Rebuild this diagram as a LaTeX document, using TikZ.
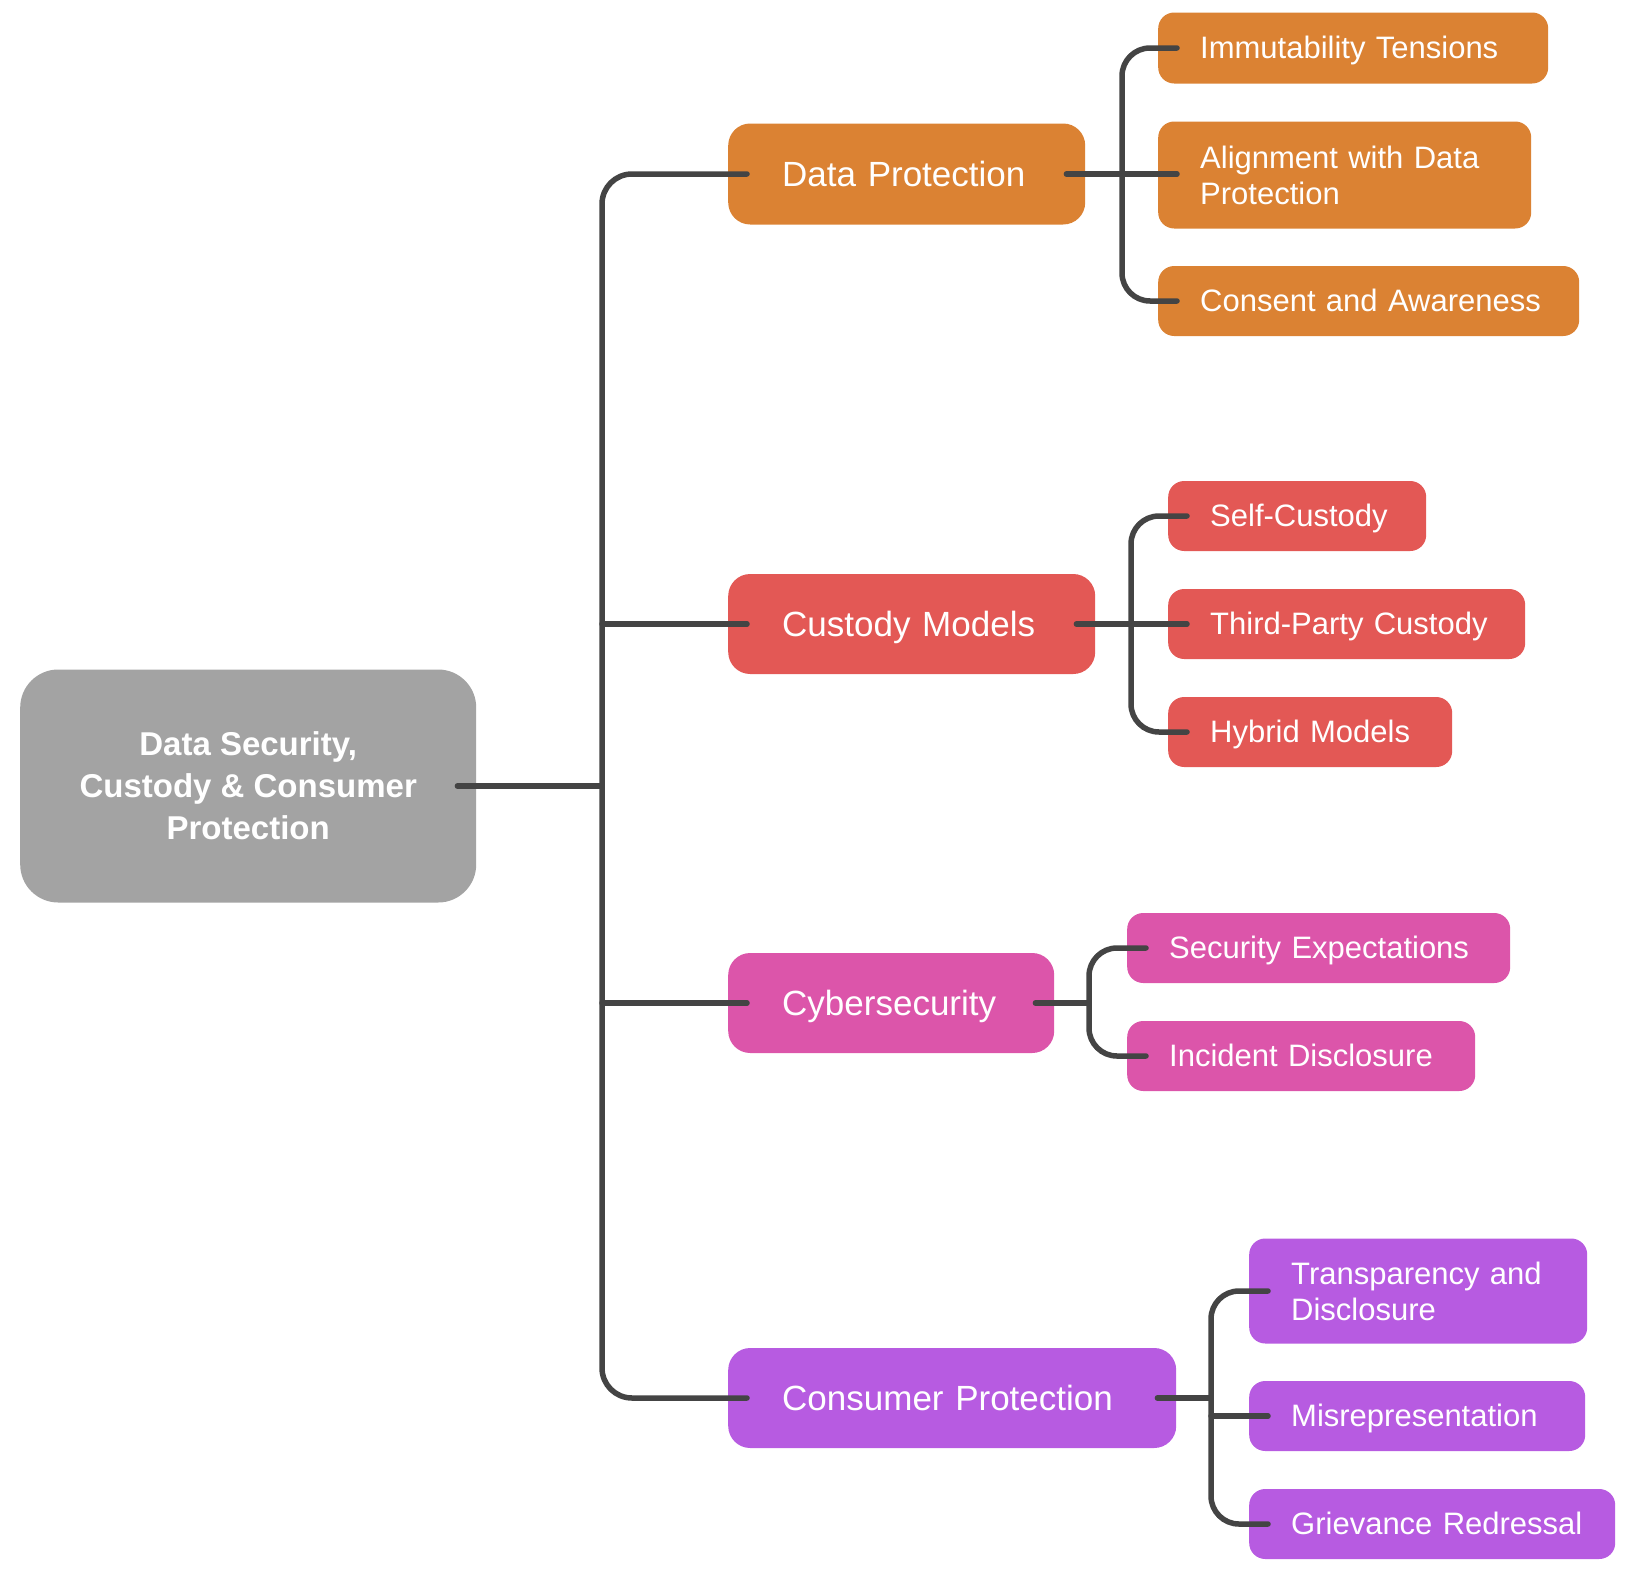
\documentclass[tikz,border=0pt]{standalone}
\usepackage{fontspec}
\setmainfont{Liberation Sans}
\usetikzlibrary{calc}
\definecolor{cgray}{RGB}{163,163,163}
\definecolor{corange}{RGB}{219,130,51}
\definecolor{cred}{RGB}{227,88,85}
\definecolor{cpink}{RGB}{220,85,170}
\definecolor{cpurple}{RGB}{183,91,225}
\definecolor{cline}{RGB}{68,68,68}
\tikzset{
  lvone/.style={rectangle, rounded corners=22, anchor=west, text=white, align=left,
    inner xsep=54pt, inner ysep=0pt, font=\fontsize{35}{40}\selectfont,
    text height=32.5pt, text depth=8.4pt},
  lvtwo/.style={rectangle, rounded corners=16, anchor=west, text=white, align=left,
    inner xsep=42pt, inner ysep=0pt, font=\fontsize{31}{36}\selectfont},
  onel/.style={text height=28.8pt, text depth=7.4pt},
  conn/.style={draw=cline, line width=5.5pt, line cap=round},
}
\begin{document}
\begin{tikzpicture}[x=1pt,y=-1pt]
\useasboundingbox (0,0) rectangle (1636,1582);
% root
\node[rectangle, rounded corners=38, fill=cgray, text=white, align=center, anchor=west,
  minimum width=456pt, minimum height=233pt, inner sep=0pt,
  font=\bfseries\fontsize{33}{42}\selectfont] (root) at (20,786)
  {Data Security,\\Custody \& Consumer\\Protection};
% level one
\node[lvone, fill=corange, text width=249pt, minimum height=101pt] (dp) at (728,174) {\mbox{Data Protection}};
\node[lvone, fill=cred, text width=259pt, minimum height=100pt] (cm) at (728,624) {\mbox{Custody Models}};
\node[lvone, fill=cpink, text width=218pt, minimum height=100pt] (cy) at (728,1003) {\mbox{Cybersecurity}};
\node[lvone, fill=cpurple, text width=340pt, minimum height=100pt] (cp) at (728,1398) {\mbox{Consumer Protection}};
% level two
\node[lvtwo, onel, fill=corange, text width=306pt, minimum height=71pt] (imm) at (1158,48) {\mbox{Immutability Tensions}};
\node[lvtwo, fill=corange, text width=289pt, minimum height=107pt] (ali) at (1158,175) {\mbox{Alignment with Data}\\\mbox{Protection}};
\node[lvtwo, onel, fill=corange, text width=337pt, minimum height=70pt] (con) at (1158,301) {\mbox{Consent and Awareness}};
\node[lvtwo, onel, fill=cred, text width=174pt, minimum height=70pt] (self) at (1168,516) {\mbox{Self-Custody}};
\node[lvtwo, onel, fill=cred, text width=273pt, minimum height=70pt] (third) at (1168,624) {\mbox{Third-Party Custody}};
\node[lvtwo, onel, fill=cred, text width=200pt, minimum height=70pt] (hyb) at (1168,732) {\mbox{Hybrid Models}};
\node[lvtwo, onel, fill=cpink, text width=299pt, minimum height=70pt] (sec) at (1127,948) {\mbox{Security Expectations}};
\node[lvtwo, onel, fill=cpink, text width=264pt, minimum height=70pt] (inc) at (1127,1056) {\mbox{Incident Disclosure}};
\node[lvtwo, fill=cpurple, text width=254pt, minimum height=105pt] (tra) at (1249,1291) {\mbox{Transparency and}\\\mbox{Disclosure}};
\node[lvtwo, onel, fill=cpurple, text width=252pt, minimum height=70pt] (mis) at (1249,1416) {\mbox{Misrepresentation}};
\node[lvtwo, onel, fill=cpurple, text width=282pt, minimum height=70pt] (gri) at (1249,1524) {\mbox{Grievance Redressal}};
% trunk
\coordinate (trunkx) at (602,0);
\draw[conn] ($(root.east)+(-19,0)$) -- (trunkx |- root.east);
\draw[conn, rounded corners=30] ($(dp.west)+(19,0)$) -| (trunkx |- cp.west) -- ($(cp.west)+(19,0)$);
\draw[conn] (trunkx |- cm.west) -- ($(cm.west)+(19,0)$);
\draw[conn] (trunkx |- cy.west) -- ($(cy.west)+(19,0)$);
% data protection children
\coordinate (bdp) at (1122,0);
\draw[conn] ($(dp.east)+(-19,0)$) -- ($(ali.west)+(19,-1)$);
\draw[conn, rounded corners=28] ($(imm.west)+(19,0)$) -| (bdp |- con.west) -- ($(con.west)+(19,0)$);
% custody children
\coordinate (bcm) at (1131,0);
\draw[conn] ($(cm.east)+(-19,0)$) -- ($(third.west)+(19,0)$);
\draw[conn, rounded corners=28] ($(self.west)+(19,0)$) -| (bcm |- hyb.west) -- ($(hyb.west)+(19,0)$);
% cyber children
\coordinate (bcy) at (1089,0);
\draw[conn] ($(cy.east)+(-19,0)$) -- (bcy |- cy.east);
\draw[conn, rounded corners=28] ($(sec.west)+(19,0)$) -| (bcy |- inc.west) -- ($(inc.west)+(19,0)$);
% consumer children
\coordinate (bcp) at (1211,0);
\draw[conn] ($(cp.east)+(-19,0)$) -- (bcp |- cp.east);
\draw[conn] (bcp |- mis.west) -- ($(mis.west)+(19,0)$);
\draw[conn, rounded corners=28] ($(tra.west)+(19,0)$) -| (bcp |- gri.west) -- ($(gri.west)+(19,0)$);
\end{tikzpicture}
\end{document}
